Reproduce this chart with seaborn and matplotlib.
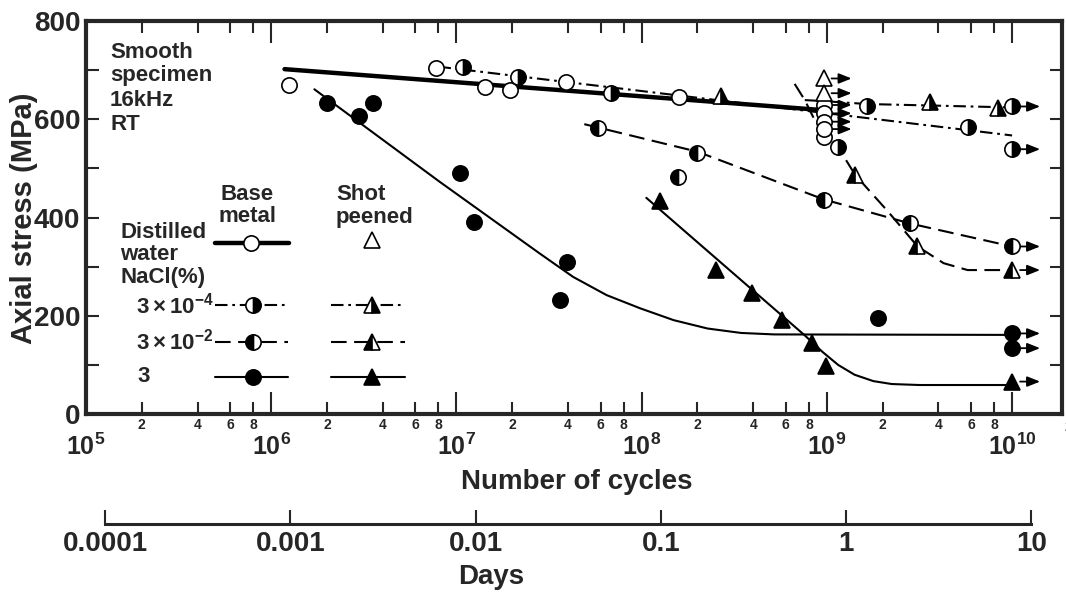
import numpy as np
import matplotlib
matplotlib.use("Agg")
import matplotlib.pyplot as plt
import matplotlib.ticker as mticker
from matplotlib.transforms import offset_copy, blended_transform_factory
import seaborn as sns

# ---- data (cycles, MPa) ----
# base metal, distilled water (open circles)
bm_dw_n = [1.24e6, 7.8e6, 1.42e7, 1.95e7, 3.92e7, 1.6e8, 9.6e8]
bm_dw_s = [670, 705, 666, 660, 676, 645, 563]
bm_dw_run_n = [9.6e8, 9.6e8, 9.6e8, 9.6e8]
bm_dw_run_s = [629, 612, 595, 580]
# shot peened, distilled water (open triangles, run-outs only)
sp_dw_run_n = [9.6e8, 9.6e8]
sp_dw_run_s = [683, 653]
# base metal, 3x10^-4 % NaCl
bm_a_n = [1.08e7, 2.14e7, 6.86e7, 1.15e9, 1.64e9, 5.8e9]
bm_a_s = [706, 685, 654, 543, 627, 585]
bm_a_run_n = [1e10, 1e10]
bm_a_run_s = [626, 539]
# shot peened, 3x10^-4 % NaCl
sp_a_n = [2.69e8, 3.6e9, 8.4e9]
sp_a_s = [648, 636, 623]
# base metal, 3x10^-2 % NaCl
bm_b_n = [5.8e7, 1.57e8, 2.0e8, 9.6e8, 2.81e9]
bm_b_s = [582, 483, 532, 436, 388]
bm_b_run_n = [1e10]
bm_b_run_s = [341]
# shot peened, 3x10^-2 % NaCl
sp_b_n = [1.42e9, 3.05e9]
sp_b_s = [487, 341]
sp_b_run_n = [1e10]
sp_b_run_s = [293]
# base metal, 3 % NaCl
bm_c_n = [1.99e6, 2.99e6, 3.56e6, 1.04e7, 1.25e7, 3.64e7, 3.95e7, 1.88e9]
bm_c_s = [634, 607, 634, 491, 391, 232, 310, 195]
bm_c_run_n = [1e10, 1e10]
bm_c_run_s = [164, 134]
# shot peened, 3 % NaCl
sp_c_n = [1.26e8, 2.52e8, 3.94e8, 5.73e8, 8.35e8, 9.87e8]
sp_c_s = [434, 293, 246, 191, 144, 98]
sp_c_run_n = [1e10]
sp_c_run_s = [66]

# fitted curves as drawn in the figure
fit_bm_dw_n = [1.18e6, 9.2e8]
fit_bm_dw_s = [702, 619]
fit_bm_a_n = [8.0e6, 1.0e10]
fit_bm_a_s = [707, 567]
fit_sp_a_n = [7.6e8, 9.5e8, 1.65e9, 3.6e9, 1.0e10]
fit_sp_a_s = [639, 637, 631, 628, 624]
fit_bm_b_n = [4.9e7, 2.0e8, 9.6e8, 2.8e9, 1.0e10]
fit_bm_b_s = [590, 534, 437, 388, 341]
fit_sp_b_n = [6.7e8, 7.6e8, 8.6e8, 1.15e9, 1.42e9, 2.14e9, 3.09e9, 4.27e9, 5.75e9, 1.0e10]
fit_sp_b_s = [672, 639, 598, 543, 487, 412, 341, 307, 293, 293]
fit_bm_c_n = [1.71e6, 8.1e6, 2.81e7, 4.27e7, 6.47e7, 9.84e7, 1.49e8, 2.27e8, 3.44e8, 5.2e8, 1.0e10]
fit_bm_c_s = [661, 473, 327, 279, 242, 215, 191, 174, 165, 162, 161]
fit_sp_c_n = [1.06e8, 7.6e8, 9.5e8, 1.15e9, 1.41e9, 1.78e9, 2.24e9, 3.16e9, 1.0e10]
fit_sp_c_s = [440, 160, 126, 100, 80, 67, 61, 59, 59]

day_ticks = [1e-4, 1e-3, 1e-2, 1e-1, 1, 10]
day_labels = ["0.0001", "0.001", "0.01", "0.1", "1", "10"]
CYCLES_PER_DAY = 1.27e9

sns.set_theme(style="ticks")
plt.rcParams.update({
    "font.family": ["Liberation Sans", "DejaVu Sans"],
    "font.weight": "bold",
    "axes.labelweight": "bold",
    "mathtext.fontset": "custom",
    "mathtext.rm": "Liberation Sans:bold",
    "mathtext.bf": "Liberation Sans:bold",
    "mathtext.it": "Liberation Sans:bold",
})

W, H = 1066, 598
fig = plt.figure(figsize=(W / 100, H / 100), dpi=100)
ax = fig.add_axes([86 / W, 184 / H, 976 / W, 393 / H])
ax.set_xscale("log")
ax.set_xlim(1e5, 1.86e10)
ax.set_ylim(0, 800)

THIN, THICK = 1.5, 3.2
DASHDOT = (0, (6, 2.3, 1.3, 2.3))
DASHED = (0, (7.5, 3.6))


def curve(n, s, lw=THIN, ls="-"):
    sns.lineplot(x=n, y=s, ax=ax, color="black", linewidth=lw, linestyle=ls,
                 sort=False, estimator=None, legend=False, zorder=2)


curve(fit_bm_dw_n, fit_bm_dw_s, lw=THICK)
curve(fit_bm_a_n, fit_bm_a_s, ls=DASHDOT)
curve(fit_sp_a_n, fit_sp_a_s, ls=DASHDOT)
curve(fit_bm_b_n, fit_bm_b_s, ls=DASHED)
curve(fit_sp_b_n, fit_sp_b_s, ls=DASHED)
curve(fit_bm_c_n, fit_bm_c_s)
curve(fit_sp_c_n, fit_sp_c_s)

MS = 11
styles = {
    "bm_dw": dict(marker="o", mfc="white"),
    "sp_dw": dict(marker="^", mfc="white"),
    "bm_a": dict(marker="o", mfc="black", mfcalt="white", fillstyle="right"),
    "sp_a": dict(marker="^", mfc="black", mfcalt="white", fillstyle="right"),
    "bm_b": dict(marker="o", mfc="black", mfcalt="white", fillstyle="left"),
    "sp_b": dict(marker="^", mfc="black", mfcalt="white", fillstyle="left"),
    "bm_c": dict(marker="o", mfc="black"),
    "sp_c": dict(marker="^", mfc="black"),
}


def marks(n, s, key, **kw):
    ax.plot(n, s, ls="none", ms=MS, mec="black", mew=1.2, zorder=4,
            clip_on=False, **styles[key], **kw)


def runouts(n, s, key):
    marks(n, s, key)
    for xv, yv in zip(n, s):
        ax.annotate("", xy=(xv, yv),
                    xycoords=offset_copy(ax.transData, fig=fig, x=28, y=0, units="dots"),
                    xytext=(xv, yv),
                    textcoords=offset_copy(ax.transData, fig=fig, x=8, y=0, units="dots"),
                    arrowprops=dict(arrowstyle="-|>,head_length=0.55,head_width=0.22",
                                    color="black", lw=1.3, shrinkA=0, shrinkB=0,
                                    mutation_scale=14), zorder=3)


marks(bm_dw_n, bm_dw_s, "bm_dw")
runouts(bm_dw_run_n, bm_dw_run_s, "bm_dw")
runouts(sp_dw_run_n, sp_dw_run_s, "sp_dw")
marks(bm_a_n, bm_a_s, "bm_a")
runouts(bm_a_run_n, bm_a_run_s, "bm_a")
marks(sp_a_n, sp_a_s, "sp_a")
marks(bm_b_n, bm_b_s, "bm_b")
runouts(bm_b_run_n, bm_b_run_s, "bm_b")
marks(sp_b_n, sp_b_s, "sp_b")
runouts(sp_b_run_n, sp_b_run_s, "sp_b")
marks(bm_c_n, bm_c_s, "bm_c")
runouts(bm_c_run_n, bm_c_run_s, "bm_c")
marks(sp_c_n, sp_c_s, "sp_c")
runouts(sp_c_run_n, sp_c_run_s, "sp_c")

# ---- axes cosmetics ----
for sp in ax.spines.values():
    sp.set_linewidth(3.0)
    sp.set_visible(True)
ax.xaxis.set_major_locator(mticker.LogLocator(base=10, numticks=20))
ax.xaxis.set_minor_locator(mticker.LogLocator(base=10, subs=(2, 4, 6, 8), numticks=20))
ax.xaxis.set_major_formatter(mticker.FuncFormatter(
    lambda v, _: r"$\mathbf{10^{%d}}$" % int(round(np.log10(v)))))
ax.xaxis.set_minor_formatter(mticker.FuncFormatter(
    lambda v, _: "%d" % int(round(v / 10 ** np.floor(np.log10(v) + 1e-9)))))
ax.yaxis.set_major_locator(mticker.MultipleLocator(200))
ax.yaxis.set_minor_locator(mticker.MultipleLocator(100))
ax.tick_params(axis="x", which="major", direction="in", length=16, width=1.5,
               top=True, labelsize=18, pad=14)
ax.tick_params(axis="x", which="minor", direction="in", length=8.5, width=1.5,
               top=True, labelsize=10, pad=3)
ax.tick_params(axis="y", which="both", direction="in", length=9, width=1.5,
               right=True, labelsize=20, pad=4)
ax.text(2e10, -0.016, "2", transform=blended_transform_factory(ax.transData, ax.transAxes),
        ha="center", va="top", fontsize=10, clip_on=False)

ax.set_xlabel("Number of cycles", fontsize=20)
ax.xaxis.set_label_coords(577 / W, 1 - 482 / H, transform=fig.transFigure)
ax.xaxis.label.set_va("center")
ax.set_ylabel("Axial stress (MPa)", fontsize=21)
ax.yaxis.set_label_coords(24 / W, 1 - 218 / H, transform=fig.transFigure)
ax.yaxis.label.set_va("center")

# ---- secondary "Days" scale ----
ax2 = fig.add_axes([86 / W, (H - 524) / H, 976 / W, 0.0001])
ax2.set_xscale("log")
ax2.set_xlim(1e5 / CYCLES_PER_DAY, 1.86e10 / CYCLES_PER_DAY)
ax2.patch.set_visible(False)
for side in ("top", "left", "right"):
    ax2.spines[side].set_visible(False)
ax2.spines["bottom"].set_linewidth(2.2)
ax2.spines["bottom"].set_bounds(day_ticks[0], day_ticks[-1])
ax2.set_yticks([])
ax2.set_xticks(day_ticks)
ax2.set_xticklabels(day_labels)
ax2.xaxis.set_minor_locator(mticker.NullLocator())
ax2.tick_params(axis="x", direction="in", length=10, width=1.5, labelsize=20, pad=5)
fig.text(491 / W, 1 - 577 / H, "Days", ha="center", va="center", fontsize=20)


# ---- hand-made legend ----
def axc(px, py):
    return (px - 86) / 976, (414 - py) / 393


def label(px, py, txt, ha="left"):
    x, y = axc(px, py)
    ax.text(x, y, txt, transform=ax.transAxes, ha=ha, va="center", fontsize=16)


for txt, py in zip(["Smooth", "specimen", "16kHz", "RT"], [53, 76, 100, 124]):
    label(110, py, txt)
label(247, 195, "Base", ha="center")
label(247, 217, "metal", ha="center")
label(336, 195, "Shot")
label(336, 217, "peened")
label(120, 233, "Distilled")
label(120, 255, "water")
label(120, 278, "NaCl(%)")
label(136, 306, r"$\mathbf{3\times10^{-4}}$")
label(136, 342, r"$\mathbf{3\times10^{-2}}$")
label(137, 377, "3")


def key(x0, x1, xm, py, lw, ls, style):
    ya = axc(0, py)[1]
    if lw:
        ax.plot([axc(x0, 0)[0], axc(x1, 0)[0]], [ya, ya], transform=ax.transAxes,
                color="black", lw=lw, ls=ls, clip_on=False, zorder=3)
    ax.plot([axc(xm, 0)[0]], [ya], transform=ax.transAxes, ls="none", ms=MS,
            mec="black", mew=1.2, clip_on=False, zorder=4, **styles[style])


key(215, 289, 251, 243, THICK, "-", "bm_dw")
key(0, 0, 372, 240, 0, "-", "sp_dw")
key(215, 288, 253, 305, THIN, DASHDOT, "bm_a")
key(331, 405, 372, 305, THIN, DASHDOT, "sp_a")
key(215, 288, 253, 342, THIN, DASHED, "bm_b")
key(331, 405, 372, 342, THIN, DASHED, "sp_b")
key(215, 288, 253, 377, THIN, "-", "bm_c")
key(331, 405, 372, 377, THIN, "-", "sp_c")

fig.savefig("out.png", dpi=100)
